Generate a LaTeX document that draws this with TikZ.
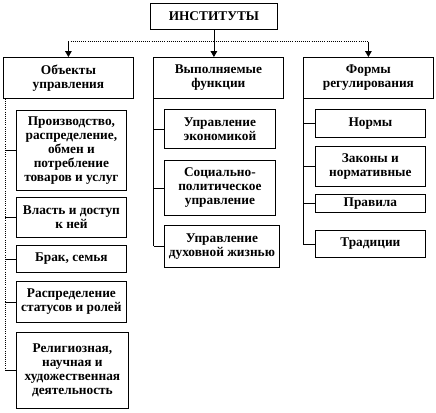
\documentclass[tikz,border=0pt]{standalone}
\usepackage{fontspec}
\setmainfont{Liberation Serif}
\usetikzlibrary{arrows.meta}

\tikzset{every picture/.style={line width=0.6pt}}
\tikzset{
  blok/.style 2 args={draw, anchor=north west, inner sep=0.75pt, align=center,
    minimum width=#1*0.75pt, minimum height=#2*0.75pt,
    font=\fontsize{10}{10.5}\selectfont\bfseries},
  svyaz/.style={line width=0.6pt},
  strelka/.style={-{Triangle[width=5pt,length=4.5pt]}}
}

\begin{document}
\begin{tikzpicture}[x=0.75pt,y=0.75pt,yscale=-1,xscale=1]
\useasboundingbox (0,0) rectangle (436,412);

% Top
\node [blok={127}{26}] (inst) at (150,3) {ИНСТИТУТЫ};

% Level 2
\node [blok={130}{41}] (obj) at (3,57) {Объекты\\управления};
\node [blok={130}{41}] (func) at (153,57) {Выполняемые\\функции};
\node [blok={130}{41}] (form) at (303,57) {Формы\\регулирования};

% Top connectors
\draw [svyaz] (inst.south) -- ++(0,12) coordinate (bar);
\draw [svyaz, densely dotted] (obj.north |- bar) -- (form.north |- bar);
\draw [svyaz, strelka] (obj.north |- bar) -- (obj.north);
\draw [svyaz, strelka] (bar) -- (bar |- func.north);
\draw [svyaz, strelka] (form.north |- bar) -- (form.north);

% Objects of management
\node [blok={110}{80}] (o1) at (16,110) {Производство,\\распределение,\\обмен и\\потребление\\товаров и услуг};
\node [blok={110}{40}] (o2) at (16,197) {Власть и доступ\\к ней};
\node [blok={110}{27}] (o3) at (16,245) {Брак, семья};
\node [blok={110}{41}] (o4) at (16,281) {Распределение\\статусов и ролей};
\node [blok={112}{76}] (o5) at (16,332) {Религиозная,\\научная и\\художественная\\деятельность};

\coordinate (lsp) at ([xshift=1.5]obj.south west);
\draw [svyaz, densely dotted] (lsp) -- (lsp |- o5.west);
\foreach \n in {o1,o2,o3,o4,o5}
  \draw [svyaz] (lsp |- \n.west) -- (\n.west);

% Functions
\node [blok={111}{39}] (f1) at (164,109) {Управление\\экономикой};
\node [blok={111}{55}] (f2) at (164,160) {Социально-\\политическое\\управление};
\node [blok={115}{42}] (f3) at (164,225) {Управление\\духовной жизнью};

\coordinate (msp) at ([xshift=0.5]func.south west);
\draw [svyaz] (msp) -- (msp |- f3.west);
\foreach \n in {f1,f2,f3}
  \draw [svyaz] (msp |- \n.west) -- (\n.west);

% Forms of regulation
\node [blok={110}{28}] (r1) at (315,109) {Нормы};
\node [blok={110}{40}] (r2) at (315,146) {Законы и\\нормативные};
\node [blok={110}{18}] (r3) at (315,194) {Правила};
\node [blok={110}{27}] (r4) at (315,230) {Традиции};

\coordinate (rsp) at (form.south west);
\draw [svyaz] (rsp) -- (rsp |- r4.west);
\foreach \n in {r1,r2,r3,r4}
  \draw [svyaz] (rsp |- \n.west) -- (\n.west);

\end{tikzpicture}
\end{document}
